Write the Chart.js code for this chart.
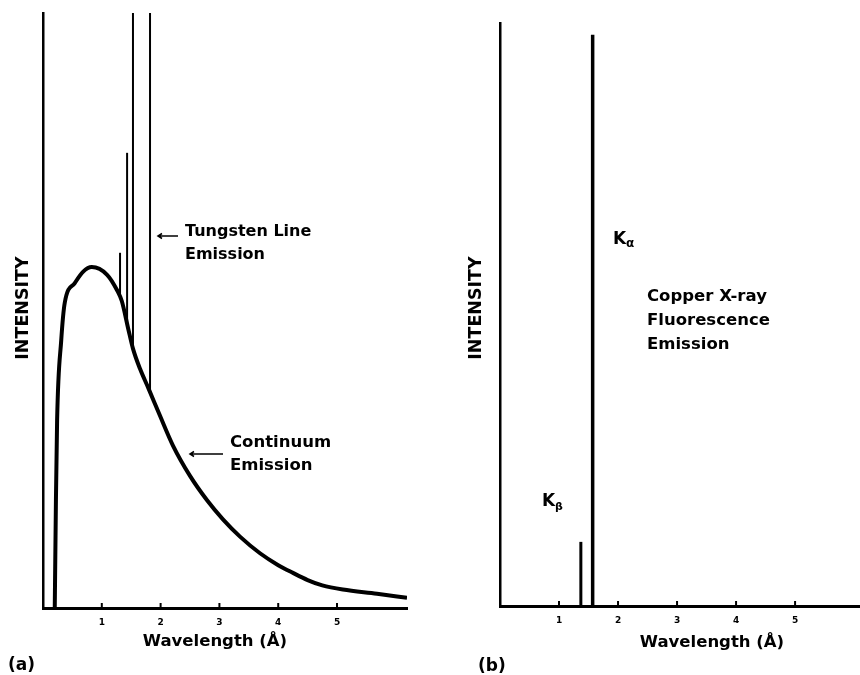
<!DOCTYPE html>
<html>
<head>
<meta charset="utf-8">
<title>X-ray emission spectra</title>
<script src="https://cdn.jsdelivr.net/npm/chart.js@4.4.0/dist/chart.umd.min.js"></script>
<style>
  html, body { margin: 0; padding: 0; background: #fff; }
  .panel { position: absolute; top: 0; width: 430px; height: 675px; }
  #panelA { left: 0; }
  #panelB { left: 430px; }
</style>
</head>
<body>
<div class="panel" id="panelA"><canvas id="chartA"></canvas></div>
<div class="panel" id="panelB"><canvas id="chartB"></canvas></div>
<script>
// (a) tube spectrum: continuum plus tungsten lines
const continuumWavelength = [0.20, 0.22, 0.24, 0.31, 0.37, 0.54, 0.68, 0.83, 1.09, 1.26, 1.34, 1.45, 1.53, 1.65, 1.79, 1.99, 2.21, 2.50, 2.79, 3.06, 3.35, 3.69, 4.00, 4.25, 4.50, 4.75, 5.10, 5.68, 6.19];
const continuumIntensity  = [0, 18.2, 31.6, 45.0, 51.3, 54.6, 56.5, 57.3, 56.0, 53.4, 51.6, 46.9, 43.6, 40.2, 37.0, 32.3, 27.3, 22.2, 18.1, 14.9, 12.0, 9.2, 7.2, 5.9, 4.7, 3.8, 3.1, 2.4, 1.7];

const tungstenWavelength = [1.31, 1.43, 1.53, 1.82];
const tungstenBase       = [52.3, 47.6, 43.4, 36.4];
const tungstenPeak       = [59.7, 76.5, 100, 100];

// (b) copper fluorescence
const copperWavelength = [1.37, 1.57];
const copperIntensity  = [11, 98];

const tickValues = [1, 2, 3, 4, 5];

const FONT = "'DejaVu Sans', sans-serif";
Chart.defaults.font.family = FONT;
Chart.defaults.color = '#000';

function lineSegment(x, y0, y1, width) {
    return {
        data: [{ x: x, y: y0 }, { x: x, y: y1 }],
        borderColor: '#000',
        borderWidth: width,
        pointRadius: 0,
        showLine: true
    };
}

function text(ctx, str, x, y, size, opts) {
    opts = opts || {};
    ctx.save();
    ctx.font = 'bold ' + size + 'px ' + FONT;
    ctx.fillStyle = '#000';
    ctx.textAlign = opts.align || 'left';
    ctx.textBaseline = 'middle';
    if (opts.rotate) {
        ctx.translate(x, y);
        ctx.rotate(opts.rotate);
        ctx.fillText(str, 0, 0);
    } else {
        ctx.fillText(str, x, y);
    }
    ctx.restore();
}

function arrowLeft(ctx, x0, x1, y) {
    ctx.save();
    ctx.strokeStyle = '#000';
    ctx.lineWidth = 1.5;
    ctx.beginPath();
    ctx.moveTo(x1, y);
    ctx.lineTo(x0, y);
    ctx.moveTo(x0 + 4, y - 2.5);
    ctx.lineTo(x0, y);
    ctx.lineTo(x0 + 4, y + 2.5);
    ctx.stroke();
    ctx.restore();
}

// small tick marks pointing up into the plot
const innerTicks = {
    id: 'innerTicks',
    afterDraw(chart) {
        const ctx = chart.ctx;
        const xs = chart.scales.x;
        const bottom = chart.chartArea.bottom;
        ctx.save();
        ctx.strokeStyle = '#000';
        ctx.lineWidth = 2;
        tickValues.forEach(v => {
            const px = xs.getPixelForValue(v);
            ctx.beginPath();
            ctx.moveTo(px, bottom);
            ctx.lineTo(px, bottom - 5);
            ctx.stroke();
        });
        ctx.restore();
    }
};

function baseOptions(xMax, area) {
    return {
        responsive: true,
        maintainAspectRatio: false,
        animation: false,
        layout: { padding: { top: area.top, right: area.right, left: 0, bottom: 0 } },
        plugins: { legend: { display: false }, tooltip: { enabled: false } },
        elements: { line: { borderCapStyle: 'butt' } },
        scales: {
            x: {
                type: 'linear',
                min: 0,
                max: xMax,
                afterBuildTicks: s => { s.ticks = tickValues.map(v => ({ value: v })); },
                afterFit: s => { s.height = 675 - area.bottom; },
                grid: { display: true, drawOnChartArea: false, drawTicks: false },
                border: { display: true, color: '#000', width: 3 },
                ticks: { color: '#000', font: { size: 9, weight: 'bold' }, padding: 9 }
            },
            y: {
                type: 'linear',
                min: 0,
                max: 100,
                afterFit: s => { s.width = area.left; },
                grid: { display: true, drawOnChartArea: false, drawTicks: false },
                border: { display: true, color: '#000', width: 2.5 },
                ticks: { display: false }
            }
        }
    };
}

// ---- panel (a)
const tubeDatasets = [{
    data: continuumWavelength.map((x, i) => ({ x: x, y: continuumIntensity[i] })),
    borderColor: '#000',
    borderWidth: 4,
    pointRadius: 0,
    showLine: true,
    cubicInterpolationMode: 'monotone'
}];
tungstenWavelength.forEach((x, i) => {
    tubeDatasets.push(lineSegment(x, tungstenBase[i], tungstenPeak[i], 2));
});

const notesA = {
    id: 'notesA',
    afterDraw(chart) {
        const ctx = chart.ctx;
        text(ctx, 'INTENSITY', 23, 308, 17.5, { align: 'center', rotate: -Math.PI / 2 });
        text(ctx, 'Wavelength (Å)', 215, 642, 16.5, { align: 'center' });
        text(ctx, '(a)', 8, 666, 17);
        arrowLeft(ctx, 158, 178, 236);
        text(ctx, 'Tungsten Line', 185, 232, 16);
        text(ctx, 'Emission', 185, 255, 16);
        arrowLeft(ctx, 190, 223, 454);
        text(ctx, 'Continuum', 230, 443, 16.5);
        text(ctx, 'Emission', 230, 466, 16.5);
    }
};

new Chart(document.getElementById('chartA').getContext('2d'), {
    type: 'scatter',
    data: { datasets: tubeDatasets },
    options: baseOptions(6.19, { left: 43, top: 13, right: 23, bottom: 608 }),
    plugins: [innerTicks, notesA]
});

// ---- panel (b)
const copperDatasets = copperWavelength.map((x, i) => lineSegment(x, 0, copperIntensity[i], i === 1 ? 3.5 : 3));

const notesB = {
    id: 'notesB',
    afterDraw(chart) {
        const ctx = chart.ctx;
        text(ctx, 'INTENSITY', 46, 308, 17.5, { align: 'center', rotate: -Math.PI / 2 });
        text(ctx, 'Wavelength (Å)', 282, 643, 16.5, { align: 'center' });
        text(ctx, '(b)', 48, 667, 17);
        text(ctx, 'K', 183, 240, 17);
        text(ctx, 'α', 196, 244, 12);
        text(ctx, 'K', 112, 502, 17);
        text(ctx, 'β', 125, 507, 11);
        text(ctx, 'Copper X-ray', 217, 297, 16.5);
        text(ctx, 'Fluorescence', 217, 321, 16.5);
        text(ctx, 'Emission', 217, 345, 16.5);
    }
};

new Chart(document.getElementById('chartB').getContext('2d'), {
    type: 'scatter',
    data: { datasets: copperDatasets },
    options: baseOptions(6.1, { left: 70, top: 23, right: 0, bottom: 606 }),
    plugins: [innerTicks, notesB]
});
</script>
</body>
</html>
